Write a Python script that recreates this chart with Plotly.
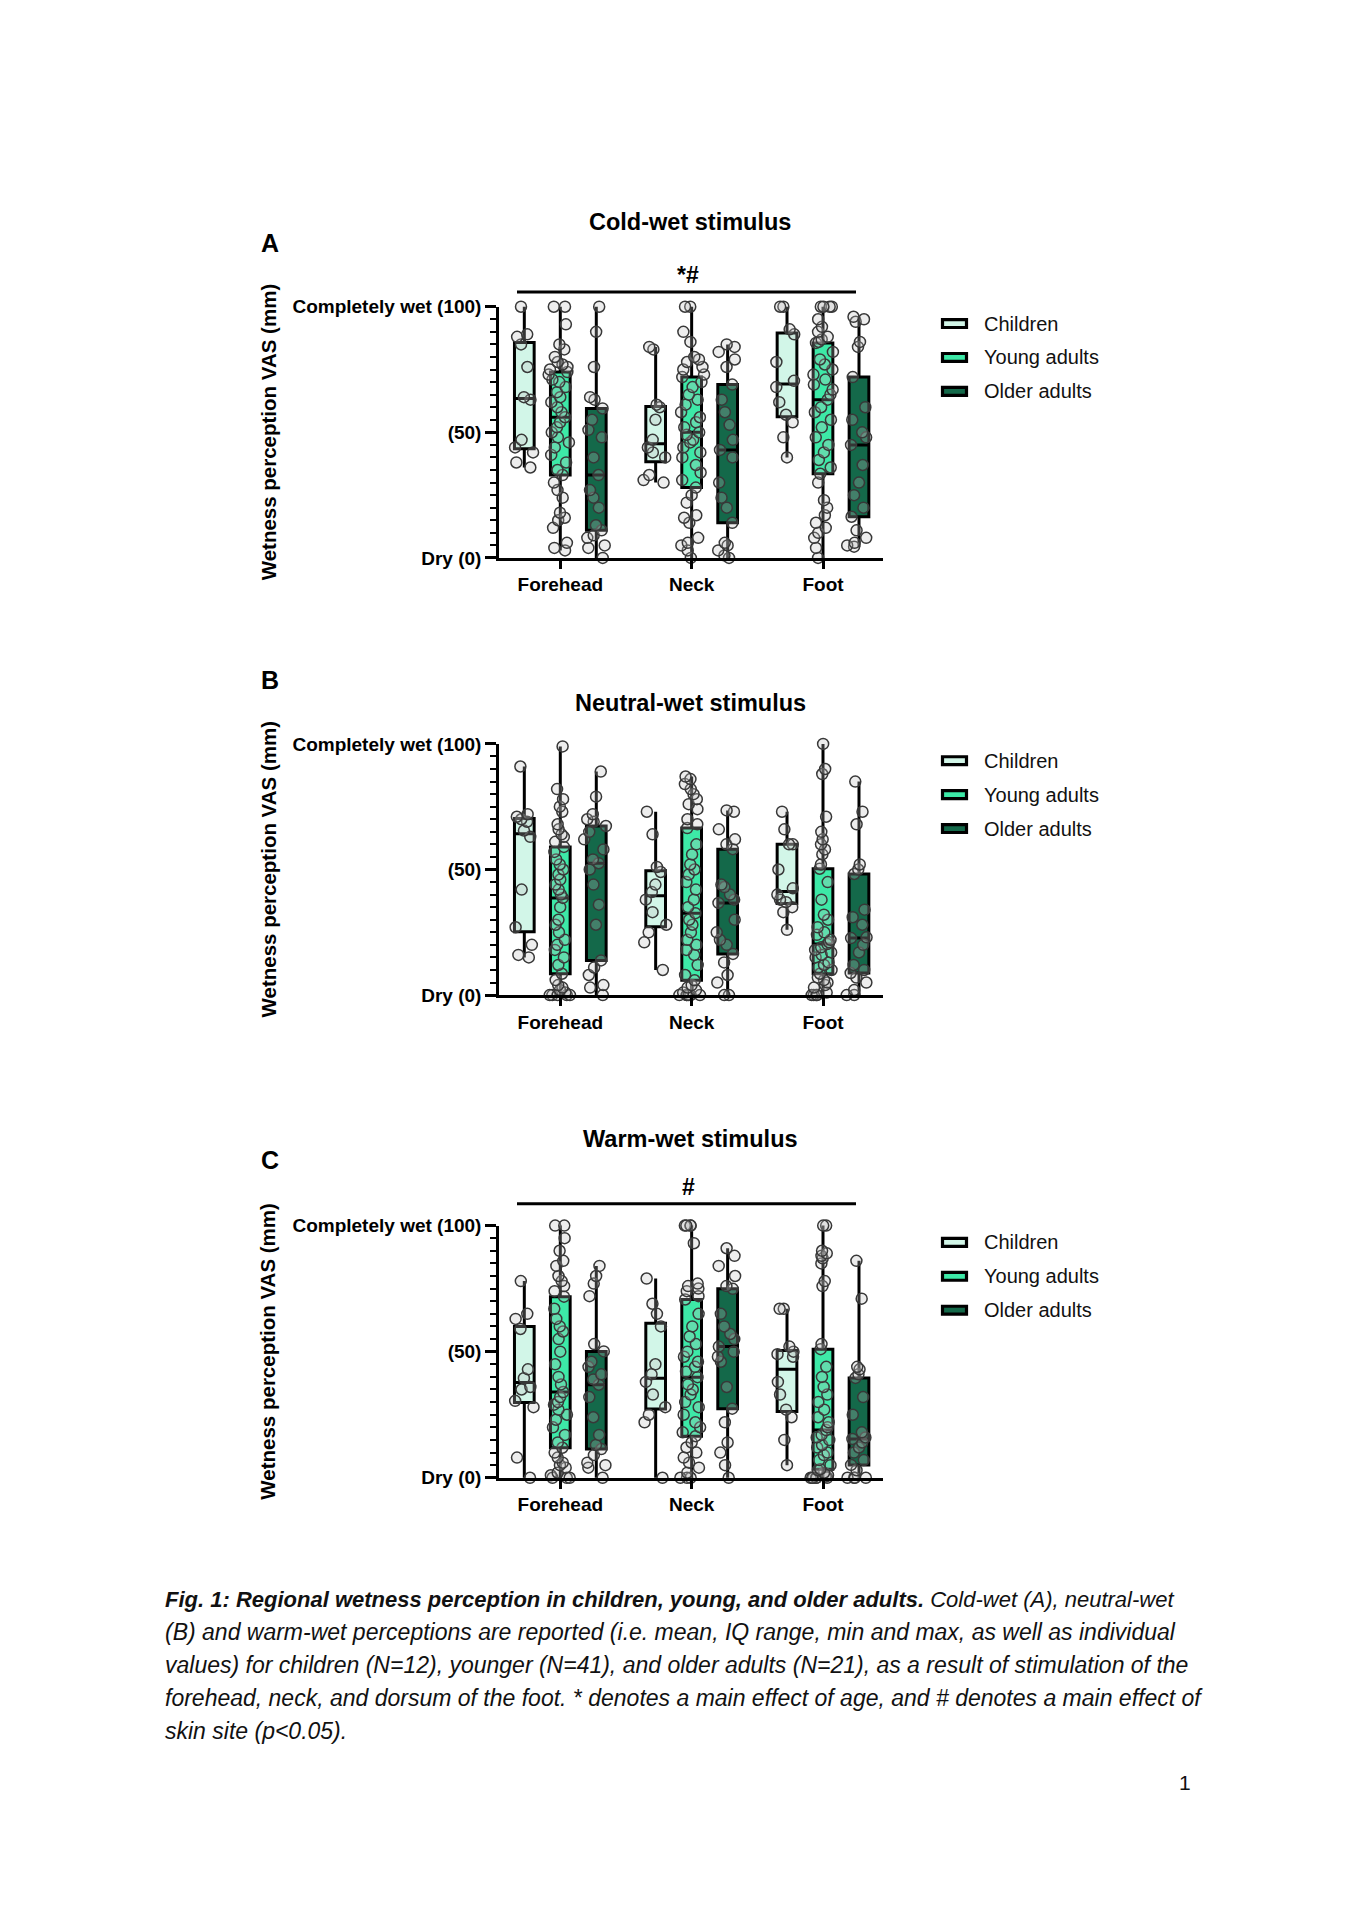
import numpy as np
import plotly.graph_objects as go

# ---------------- data ----------------
sites = ["Forehead", "Neck", "Foot"]
groups = ["Children", "Young adults", "Older adults"]
panel_titles = ["Cold-wet stimulus", "Neutral-wet stimulus", "Warm-wet stimulus"]
panel_letters = ["A", "B", "C"]
sig_labels = ["*#", None, "#"]
y_tick_vals = [0, 50, 100]
y_tick_text = ["Dry (0)", "(50)", "Completely wet (100)"]
y_title = "Wetness perception VAS (mm)"

# Cold-wet (A): one list per skin site (Forehead, Neck, Foot)
cold_children = [
    [36, 38, 42, 44, 47, 63, 64, 76, 85, 88, 89, 100],
    [30, 31, 33, 40, 42, 44, 47, 55, 60, 61, 83, 84],
    [40, 48, 54, 57, 62, 68, 70.5, 78, 89, 91, 100, 100],
]
cold_young = [
    [3, 4, 6, 12, 15, 16, 18, 24, 27, 30, 33, 35, 38, 41, 44, 46, 48, 50, 52, 54, 56,
     58, 60, 62, 64, 66, 68, 70, 71, 73, 74, 75, 76, 77, 78, 80, 83, 85, 93, 100, 100],
    [0, 3, 5, 6, 8, 14, 16, 17, 22, 25, 28, 31, 34, 37, 40, 42, 44, 46, 47, 49, 50,
     52, 54, 56, 58, 61, 63, 65, 68, 70, 72, 73, 75, 76, 78, 79, 80, 86, 90, 100, 100],
    [0, 4, 8, 10, 12, 14, 17, 20, 23, 30, 33.5, 36, 39, 42, 45, 48, 52, 55, 58, 60, 63,
     65, 67, 69, 71, 73, 75, 77, 79, 82, 85.6, 86, 87, 88, 90, 92, 95, 100, 100, 100, 100],
]
cold_older = [
    [0, 4, 5, 8, 9, 11, 13, 20, 24, 27, 33, 40, 48, 51, 55, 59.5, 63, 64, 76, 90, 100],
    [0, 1, 3, 5, 6, 14, 20, 24, 30, 40, 43, 47, 53, 58, 63, 69, 76, 79, 82, 84, 85],
    [4.5, 5, 6, 8, 11, 16.4, 20, 25, 30, 37, 45, 48, 50, 55, 60, 72, 84, 86, 94, 95, 96],
]

# Neutral-wet (B)
neutral_children = [
    [15, 16, 20, 27, 42, 63, 65.5, 69, 70, 71, 72, 91],
    [10, 21, 25, 28, 33, 38, 41, 44, 49, 51, 64, 73],
    [26, 33, 35, 37, 38, 40, 42.5, 50, 60, 60, 66, 73],
]
neutral_young = [
    [0, 0, 0, 0, 0, 1, 2, 3, 4, 6, 8.5, 12, 15, 18, 20, 22, 25, 28, 30, 35, 38.7,
     40, 42, 44, 46, 48, 50, 52, 54, 57, 59, 61, 63, 64, 66, 68, 73, 75, 78, 82, 99],
    [0, 0, 0, 0, 0, 0, 1, 2, 3, 4, 5.9, 8, 12, 16, 18, 20, 22, 25, 28, 30, 32.6,
     35, 38, 42, 45, 48, 50, 52, 56, 60, 66.5, 68, 70, 74, 76, 78, 80, 82, 84, 86, 87],
    [0, 0, 0, 0, 1, 3, 4, 5, 6, 7, 8.5, 10, 11, 12, 13, 15, 16, 17, 18, 19, 20.3,
     21, 22, 24, 25, 27, 30, 32, 38, 45, 50.3, 52, 56, 58, 60, 62, 65, 71, 88, 90, 100],
]
neutral_older = [
    [0, 3, 4, 8, 11, 13.8, 28, 36, 44, 50, 52.5, 54, 58, 62, 65, 67.3, 69, 70, 72, 79, 89],
    [0, 0, 5, 8, 13, 16.4, 20, 22, 25, 30, 36.7, 38, 40, 43, 44, 58.1, 60, 62, 66, 73, 73.5],
    [0, 0, 2, 5, 7, 8.8, 10, 12, 17, 20, 22.7, 23, 28, 31, 34, 48.2, 50, 52, 68, 73, 85],
]

# Warm-wet (C)
warm_children = [
    [0, 8, 28, 30.5, 35, 36, 39.5, 43, 59, 63, 65, 78],
    [0, 22, 25, 28, 33, 38, 41, 45, 60, 65, 69, 79],
    [5, 15, 24, 27, 33, 38, 48, 49, 50, 52, 67, 67],
]
warm_young = [
    [0, 0, 0, 1, 2, 4, 5, 6, 8, 10, 11.9, 14, 17, 20, 23, 25, 27, 29, 30, 32, 34,
     37, 40, 45, 50, 55, 58, 60, 63, 67, 71.8, 74, 76, 78, 80, 84, 86, 90, 95, 100, 100],
    [0, 0, 0, 2, 4, 6, 8, 10, 12, 14, 16.5, 18, 20, 22, 25, 28, 30, 33, 35, 37, 39.9,
     42, 44, 46, 48, 50, 53, 56, 60, 65, 70.7, 72, 74, 75, 76, 77, 93, 100, 100, 100, 100],
    [0, 0, 0, 0, 0, 0, 0.5, 1, 2, 3, 3.4, 5, 7, 9, 10, 12, 13, 15, 16, 17, 18.9,
     20, 22, 24, 27, 30, 33, 36, 40, 44, 51, 53, 76, 78, 85, 87, 88, 89, 90, 100, 100],
]
warm_older = [
    [0, 4, 5, 6, 9, 11.4, 13, 17, 24, 32, 36.9, 39, 41, 44, 46, 50.1, 53, 72, 77, 80, 84],
    [0, 5, 10, 14, 22, 27.4, 36, 46, 48, 50, 52, 55, 57, 60, 65, 74.9, 76, 80, 84, 88, 91],
    [0, 0, 0, 0, 3, 5.1, 7, 10, 12, 14, 15.4, 16, 18, 25, 32, 39.6, 41, 43, 44, 71, 86],
]

panels = [
    [cold_children, cold_young, cold_older],
    [neutral_children, neutral_young, neutral_older],
    [warm_children, warm_young, warm_older],
]

caption_lines = [
    "<b><i>Fig. 1: Regional wetness perception in children, young, and older adults.</i></b>"
    "<i> Cold-wet (A), neutral-wet</i>",
    "<i>(B) and warm-wet perceptions are reported (i.e. mean, IQ range, min and max, as well as individual</i>",
    "<i>values) for children (N=12), younger (N=41), and older adults (N=21), as a result of stimulation of the</i>",
    "<i>forehead, neck, and dorsum of the foot. * denotes a main effect of age, and # denotes a main effect of</i>",
    "<i>skin site (p&lt;0.05).</i>",
]
caption_sizes = [22, 23, 23, 23, 23]
page_number = "1"

# ---------------- style / geometry ----------------
W, H = 1358, 1920
def px(x):
    return x / W
def py(y):
    return 1 - y / H

FONT = "Liberation Sans, Arial, sans-serif"
CAP_FONT = "Liberation Sans, Arial, sans-serif"
colors = ["#d2f6e8", "#3de9a7", "#14694a"]
offsets = [-0.274, 0.0, 0.274]
box_w = 0.15
pts_w = 0.2
x_left, x_right = 499, 883
cat0_px, cat_step = 560.3, 131.35
x_range = [(x_left - cat0_px) / cat_step, (x_right - cat0_px) / cat_step]
y100_px = [300, 742, 1229]
y0_px = [554, 996, 1484]
pad = 5  # data units of headroom so circles at 0/100 aren't clipped

fig = go.Figure()
layout_axes = {}
annotations = []
shapes = []

for p in range(3):
    xa = "x" if p == 0 else f"x{p + 1}"
    ya = "y" if p == 0 else f"y{p + 1}"
    yd = f"y{p + 4}"
    k = (y0_px[p] - y100_px[p]) / 100.0

    # boxes (min-max whiskers, IQR box, median line)
    for g in range(3):
        vals = panels[p][g]
        pos = [i + offsets[g] for i in range(len(sites))]
        fig.add_trace(go.Box(
            x=pos,
            q1=[float(np.percentile(v, 25)) for v in vals],
            median=[float(np.median(v)) for v in vals],
            q3=[float(np.percentile(v, 75)) for v in vals],
            lowerfence=[float(np.min(v)) for v in vals],
            upperfence=[float(np.max(v)) for v in vals],
            fillcolor=colors[g], line=dict(color="black", width=3),
            width=box_w, whiskerwidth=0, boxpoints=False,
            name=groups[g], showlegend=False, hoverinfo="skip",
            xaxis=xa, yaxis=ya,
        ))
    # individual values
    for g in range(3):
        vals = panels[p][g]
        xs, ys = [], []
        for i, v in enumerate(vals):
            xs += [i + offsets[g]] * len(v)
            ys += list(v)
        fig.add_trace(go.Box(
            x=xs, y=ys, boxpoints="all", jitter=0.95, pointpos=0,
            fillcolor="rgba(0,0,0,0)", line=dict(color="rgba(0,0,0,0)", width=0),
            width=pts_w, whiskerwidth=0,
            marker=dict(size=11, color="rgba(190,190,190,0.28)",
                        line=dict(color="#383838", width=1.5)),
            name=groups[g], showlegend=False, hoverinfo="skip",
            xaxis=xa, yaxis=ya,
        ))
    # empty trace to create the display subplot carrying the visible y axis
    fig.add_trace(go.Scatter(x=[], y=[], xaxis=xa, yaxis=yd, showlegend=False,
                             hoverinfo="skip"))

    xkey = "xaxis" if p == 0 else f"xaxis{p + 1}"
    ykey = "yaxis" if p == 0 else f"yaxis{p + 1}"
    layout_axes[xkey] = dict(
        domain=[px(x_left), px(x_right)], range=x_range, anchor=yd,
        tickmode="array", tickvals=list(range(len(sites))), ticktext=sites,
        ticks="outside", ticklen=8, tickwidth=2.5, tickcolor="black",
        showline=True, linewidth=2.5, linecolor="black",
        showgrid=False, zeroline=False,
        tickfont=dict(family=FONT, size=19, color="black", weight="bold"),
    )
    layout_axes[ykey] = dict(
        domain=[py(y0_px[p] + pad * k), py(y100_px[p] - pad * k)],
        range=[-pad, 100 + pad], anchor=xa, visible=False,
        showgrid=False, zeroline=False,
    )
    layout_axes[f"yaxis{p + 4}"] = dict(
        domain=[py(y0_px[p]), py(y100_px[p])], range=[0, 100], anchor=xa,
        tickmode="array", tickvals=y_tick_vals, ticktext=y_tick_text,
        ticks="outside", ticklen=11, tickwidth=2.5, tickcolor="black",
        showline=True, linewidth=2.5, linecolor="black",
        showgrid=False, zeroline=False,
        minor=dict(tickmode="linear", tick0=0, dtick=5, ticks="outside",
                   ticklen=6, tickwidth=1.5, tickcolor="black", showgrid=False),
        tickfont=dict(family=FONT, size=19, color="black", weight="bold"),
    )

    # panel title, letter, y title
    title_y = [214, 701, 1141][p]
    annotations.append(dict(x=px(690), y=py(title_y), xref="paper", yref="paper",
                            text=panel_titles[p], showarrow=False,
                            xanchor="center", yanchor="middle",
                            font=dict(family=FONT, size=23.5, color="black", weight="bold")))
    letter_y = [236, 677, 1163][p]
    annotations.append(dict(x=px(270), y=py(letter_y), xref="paper", yref="paper",
                            text=panel_letters[p], showarrow=False,
                            xanchor="center", yanchor="middle",
                            font=dict(family=FONT, size=25, color="black", weight="bold")))
    annotations.append(dict(x=px(268), y=py((y0_px[p] + y100_px[p]) / 2), xref="paper",
                            yref="paper", text=y_title, showarrow=False, textangle=-90,
                            xanchor="center", yanchor="middle",
                            font=dict(family=FONT, size=20.5, color="black", weight="bold")))

    # significance bar
    if sig_labels[p]:
        bar_y = [285, None, 1207][p]
        shapes.append(dict(type="line", xref="paper", yref="paper",
                           x0=px(517), x1=px(856), y0=py(bar_y), y1=py(bar_y),
                           line=dict(color="black", width=3)))
        annotations.append(dict(x=px(688), y=py(bar_y - 17), xref="paper", yref="paper",
                                text=sig_labels[p], showarrow=False,
                                xanchor="center", yanchor="middle",
                                font=dict(family=FONT, size=23, color="black", weight="bold")))

    # legend (drawn per panel)
    for g in range(3):
        cy = y100_px[p] + 17 + 34.3 * g
        shapes.append(dict(type="rect", xref="paper", yref="paper",
                           x0=px(942.5), x1=px(966.5), y0=py(cy + 4), y1=py(cy - 4),
                           fillcolor=colors[g], line=dict(color="black", width=3.2)))
        annotations.append(dict(x=px(982), y=py(cy), xref="paper", yref="paper",
                                text=groups[g], showarrow=False,
                                xanchor="left", yanchor="middle",
                                font=dict(family=FONT, size=20, color="#111")))

# caption
for j, line in enumerate(caption_lines):
    annotations.append(dict(x=px(163), y=py(1607 + 33.3 * j), xref="paper", yref="paper",
                            text=line, showarrow=False, xanchor="left", yanchor="middle",
                            font=dict(family=CAP_FONT, size=caption_sizes[j], color="#111")))
annotations.append(dict(x=px(1185), y=py(1792), xref="paper", yref="paper",
                        text=page_number, showarrow=False, xanchor="center", yanchor="middle",
                        font=dict(family="Liberation Sans, Arial, sans-serif", size=21,
                                  color="#111")))

fig.update_layout(
    width=W, height=H, margin=dict(l=0, r=0, t=0, b=0),
    paper_bgcolor="white", plot_bgcolor="rgba(0,0,0,0)",
    showlegend=False, boxmode="overlay",
    annotations=annotations, shapes=shapes,
    **layout_axes,
)

fig.write_html("out.html", config={"displayModeBar": False},
               post_script="document.body.style.margin='0';document.body.style.overflow='hidden';")
